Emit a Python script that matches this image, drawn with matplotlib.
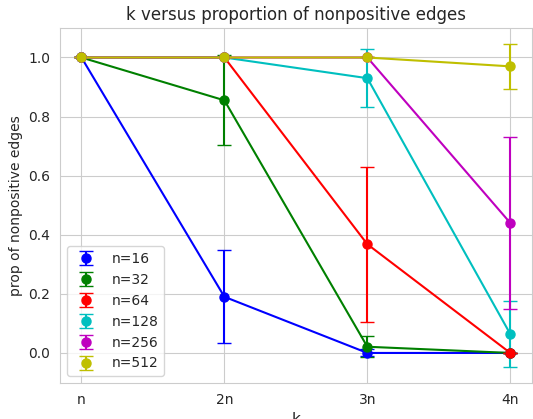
import matplotlib
matplotlib.use("Agg")
import matplotlib.pyplot as plt
import seaborn as sns

sns.set_style("whitegrid")

k_vals = [1, 2, 3, 4]
k_labels = ["n", "2n", "3n", "4n"]
sizes = [16, 32, 64, 128, 256, 512]
colors = ["b", "g", "r", "c", "m", "y"]

# mean proportion of nonpositive edges, one list per n
props = {
    16: [1.0, 0.19, 0.0, 0.0],
    32: [1.0, 0.855, 0.021, 0.0],
    64: [1.0, 1.0, 0.368, 0.0],
    128: [1.0, 1.0, 0.93, 0.064],
    256: [1.0, 1.0, 1.0, 0.44],
    512: [1.0, 1.0, 1.0, 0.97],
}
# std devs
errs = {
    16: [0.0, 0.158, 0.012, 0.0],
    32: [0.0, 0.152, 0.035, 0.0],
    64: [0.0, 0.0, 0.262, 0.0],
    128: [0.0, 0.0, 0.099, 0.111],
    256: [0.0, 0.0, 0.0, 0.29],
    512: [0.0, 0.0, 0.0, 0.075],
}

fig = plt.figure(figsize=(5.33, 4.19), dpi=100)
ax = fig.add_axes([0.1126, 0.086, 0.885, 0.847])

for n, c in zip(sizes, colors):
    ax.errorbar(k_vals, props[n], yerr=errs[n], fmt="o", color=c,
                markersize=6.5, capsize=5, linewidth=1.5, label="n=%d" % n)
    ax.plot(k_vals, props[n], color=c, linewidth=1.5)

ax.set_xticks(k_vals)
ax.set_xticklabels(k_labels)
ax.tick_params(labelsize=10)
ax.set_xlabel("k", fontsize=11)
ax.set_ylabel("prop of nonpositive edges", fontsize=10)
ax.set_title("k versus proportion of nonpositive edges", fontsize=12)
ax.legend(loc="lower left", fontsize=10)

fig.savefig("out.png", dpi=100)
